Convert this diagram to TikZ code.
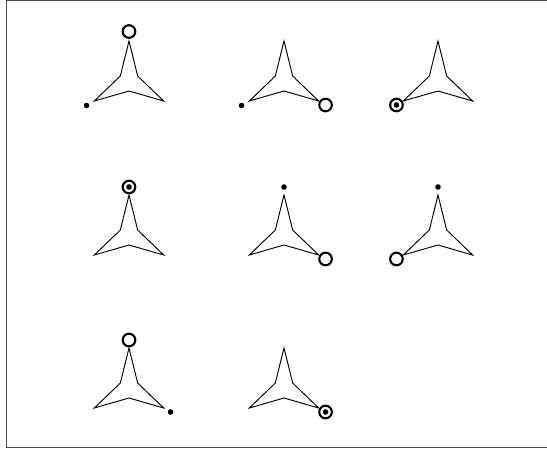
\documentclass[tikz,border=0pt]{standalone}
\begin{document}
\begin{tikzpicture}[x=1pt,y=1pt,
  starline/.style={line width=0.95pt, line join=miter},
  ringmark/.style={line width=2.1pt},
  dotmark/.style={fill=black},
  framelne/.style={black!70, line width=1.4pt},
  tristar/.pic={\draw[starline] (90:40) -- (150:10) -- (210:40) -- (270:10) -- (330:40) -- (30:10) -- cycle;}]
\useasboundingbox (0,0) rectangle (547,450);
\draw[framelne] (549,2.4) -- (6.6,2.4) -- (6.6,449.5) -- (549,449.5);
% row 1
\begin{scope}[shift={(129,369)}]
  \pic{tristar};
  \draw[ringmark] (90:49.5) circle[radius=6.3pt];
  \fill[dotmark] (210:49) circle[radius=2.8pt];
\end{scope}
\begin{scope}[shift={(284,369)}]
  \pic{tristar};
  \fill[dotmark] (210:49) circle[radius=2.8pt];
  \draw[ringmark] (330:48) circle[radius=6.3pt];
\end{scope}
\begin{scope}[shift={(438,369)}]
  \pic{tristar};
  \draw[ringmark] (210:48) circle[radius=6.3pt];
  \fill[dotmark] (210:48) circle[radius=2.8pt];
\end{scope}
% row 2
\begin{scope}[shift={(129,215)}]
  \pic{tristar};
  \draw[ringmark] (90:48) circle[radius=6.3pt];
  \fill[dotmark] (90:48) circle[radius=2.8pt];
\end{scope}
\begin{scope}[shift={(284,215)}]
  \pic{tristar};
  \fill[dotmark] (90:48) circle[radius=2.8pt];
  \draw[ringmark] (330:48) circle[radius=6.3pt];
\end{scope}
\begin{scope}[shift={(438,215)}]
  \pic{tristar};
  \fill[dotmark] (90:48) circle[radius=2.8pt];
  \draw[ringmark] (210:48) circle[radius=6.3pt];
\end{scope}
% row 3
\begin{scope}[shift={(129,62)}]
  \pic{tristar};
  \draw[ringmark] (90:48) circle[radius=6.3pt];
  \fill[dotmark] (330:48) circle[radius=2.8pt];
\end{scope}
\begin{scope}[shift={(284,62)}]
  \pic{tristar};
  \draw[ringmark] (330:48) circle[radius=6.3pt];
  \fill[dotmark] (330:48) circle[radius=2.8pt];
\end{scope}
\end{tikzpicture}
\end{document}
